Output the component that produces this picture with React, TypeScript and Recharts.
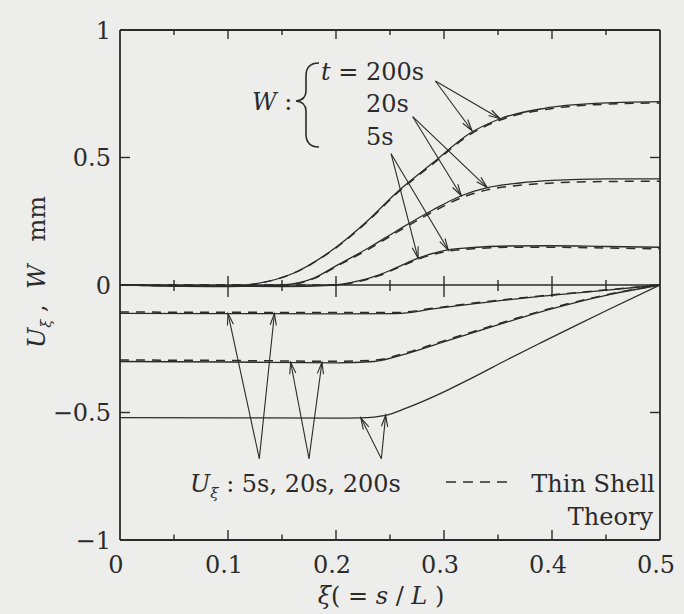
import React from 'react';
import { LineChart, Line, XAxis, YAxis, ReferenceLine } from 'recharts';

// ---- axes ----
const X_TICKS = [0, 0.05, 0.1, 0.15, 0.2, 0.25, 0.3, 0.35, 0.4, 0.45, 0.5];
const X_MAJOR = [0, 0.1, 0.2, 0.3, 0.4, 0.5];
const Y_TICKS = [-1, -0.5, 0, 0.5, 1];
const Y_LABELS = ['−1', '−0.5', '0', '0.5', '1'];
const Y_INNER = [-0.5, 0, 0.5];

// ---- W (normal displacement); solid = FEM, dashed = thin shell theory ----
const W_200S: [number, number][] = [
  [0, 0], [0.05, -0.003], [0.1, -0.005], [0.125, 0.004], [0.16, 0.045], [0.2, 0.148],
  [0.23, 0.255], [0.256, 0.362], [0.29, 0.48], [0.324, 0.595], [0.352, 0.652],
  [0.393, 0.693], [0.44, 0.712], [0.5, 0.719],
];
const W_200S_SHELL: [number, number][] = [
  [0, 0], [0.1, -0.005], [0.125, 0.004], [0.16, 0.045], [0.2, 0.146], [0.23, 0.252],
  [0.256, 0.358], [0.29, 0.476], [0.324, 0.59], [0.352, 0.647], [0.393, 0.688],
  [0.44, 0.707], [0.5, 0.714],
];
const W_20S: [number, number][] = [
  [0, 0], [0.1, -0.006], [0.15, 0.0], [0.18, 0.028], [0.2, 0.075], [0.23, 0.145],
  [0.256, 0.212], [0.29, 0.295], [0.316, 0.35], [0.34, 0.382], [0.37, 0.4],
  [0.4, 0.41], [0.45, 0.416], [0.5, 0.416],
];
const W_20S_SHELL: [number, number][] = [
  [0, 0], [0.15, 0.0], [0.18, 0.026], [0.2, 0.072], [0.23, 0.14], [0.256, 0.206],
  [0.29, 0.288], [0.316, 0.342], [0.34, 0.373], [0.37, 0.391], [0.4, 0.4],
  [0.45, 0.406], [0.5, 0.407],
];
const W_5S: [number, number][] = [
  [0, 0], [0.15, -0.006], [0.2, 0.0], [0.22, 0.015], [0.24, 0.04], [0.256, 0.068],
  [0.276, 0.105], [0.3, 0.135], [0.324, 0.146], [0.36, 0.153], [0.4, 0.154],
  [0.45, 0.151], [0.5, 0.148],
];
const W_5S_SHELL: [number, number][] = [
  [0, 0], [0.2, 0.0], [0.22, 0.013], [0.24, 0.037], [0.256, 0.065], [0.276, 0.101],
  [0.3, 0.13], [0.324, 0.141], [0.36, 0.148], [0.4, 0.148], [0.45, 0.145], [0.5, 0.142],
];

// ---- U_xi (meridional displacement) ----
const U_5S: [number, number][] = [
  [0, -0.111], [0.1, -0.112], [0.2, -0.113], [0.256, -0.112], [0.29, -0.094],
  [0.327, -0.074], [0.389, -0.045], [0.451, -0.02], [0.5, 0],
];
const U_5S_SHELL: [number, number][] = [
  [0, -0.106], [0.1, -0.107], [0.2, -0.108], [0.256, -0.108], [0.29, -0.091],
  [0.327, -0.071], [0.389, -0.043], [0.451, -0.019], [0.5, 0],
];
const U_20S: [number, number][] = [
  [0, -0.3], [0.1, -0.302], [0.2, -0.305], [0.235, -0.3], [0.265, -0.27],
  [0.296, -0.228], [0.327, -0.187], [0.358, -0.146], [0.389, -0.106],
  [0.42, -0.071], [0.455, -0.036], [0.5, 0],
];
const U_20S_SHELL: [number, number][] = [
  [0, -0.294], [0.1, -0.296], [0.2, -0.299], [0.235, -0.295], [0.265, -0.266],
  [0.296, -0.224], [0.327, -0.183], [0.358, -0.142], [0.389, -0.103],
  [0.42, -0.068], [0.455, -0.034], [0.5, 0],
];
const U_200S: [number, number][] = [
  [0, -0.52], [0.1, -0.521], [0.2, -0.522], [0.222, -0.521], [0.247, -0.51],
  [0.265, -0.483], [0.296, -0.427], [0.327, -0.362], [0.358, -0.294],
  [0.389, -0.228], [0.42, -0.163], [0.451, -0.099], [0.5, 0],
];

// annotation arrows: [fromXi, fromV, toXi, toV]
const W_ARROWS = [
  [0.292, 0.8, 0.352, 0.652], [0.292, 0.8, 0.326, 0.605],
  [0.271, 0.66, 0.34, 0.382], [0.271, 0.66, 0.316, 0.35],
  [0.251, 0.515, 0.304, 0.137], [0.251, 0.515, 0.276, 0.105],
];
const U_ARROWS = [
  [0.129, -0.681, 0.1, -0.112], [0.129, -0.681, 0.143, -0.112],
  [0.175, -0.681, 0.158, -0.303], [0.175, -0.681, 0.187, -0.303],
  [0.242, -0.681, 0.223, -0.521], [0.242, -0.681, 0.246, -0.51],
];

const INK = '#2b2b2b';
const FONT = '"DejaVu Serif", "Liberation Serif", serif';

const toPts = (arr: [number, number][]) => arr.map(([x, y]) => ({ x, y }));
const isMajor = (v: number) => X_MAJOR.some((m) => Math.abs(v - m) < 1e-9);

function ArrowShape(p: any) {
  const { x1, y1, x2, y2 } = p;
  const a = Math.atan2(y2 - y1, x2 - x1);
  const L = 12;
  const s = 0.26;
  const h1 = `${x2 - L * Math.cos(a - s)},${y2 - L * Math.sin(a - s)}`;
  const h2 = `${x2 - L * Math.cos(a + s)},${y2 - L * Math.sin(a + s)}`;
  return (
    <g stroke={INK} strokeWidth={1.1} fill="none">
      <line x1={x1} y1={y1} x2={x2} y2={y2} />
      <polyline points={`${h1} ${x2},${y2} ${h2}`} />
    </g>
  );
}

// short tick mark drawn at a reference point
function tickShape(up: number, down: number, left = 0, right = 0) {
  return (p: any) => (
    <line
      x1={p.x1 - left}
      x2={p.x1 + right}
      y1={p.y1 - up}
      y2={p.y1 + down}
      stroke={INK}
      strokeWidth={1.4}
    />
  );
}

function BottomTick(p: any) {
  const { x, y, payload } = p;
  const v = payload.value;
  const major = isMajor(v);
  const edge = v < 1e-9 || v > 0.5 - 1e-9;
  return (
    <g>
      {!edge && <line x1={x} x2={x} y1={y} y2={y - (major ? 10 : 5.5)} stroke={INK} strokeWidth={1.4} />}
      {major && (
        <text x={x - 4} y={y + 33} textAnchor="middle" fontSize={24} fill={INK} fontFamily={FONT}>
          {v === 0 ? '0' : v.toFixed(1)}
        </text>
      )}
    </g>
  );
}

function LeftTick(p: any) {
  const { x, y, payload } = p;
  const v = payload.value;
  const i = Y_TICKS.indexOf(v);
  const inner = Math.abs(v) < 0.9;
  return (
    <g>
      {inner && <line x1={x} x2={x + 10} y1={y} y2={y} stroke={INK} strokeWidth={1.4} />}
      <text x={x - 9} y={y + 8.5} textAnchor="end" fontSize={24} fill={INK} fontFamily={FONT}>
        {Y_LABELS[i]}
      </text>
    </g>
  );
}

const W_SERIES = [W_200S, W_20S, W_5S];
const W_SHELL = [W_200S_SHELL, W_20S_SHELL, W_5S_SHELL];
const U_SERIES = [U_5S, U_20S, U_200S];
const U_SHELL = [U_5S_SHELL, U_20S_SHELL];

export default function App() {
  const solid = [...W_SERIES, ...U_SERIES];
  const dashed = [...W_SHELL, ...U_SHELL];
  const inner = X_TICKS.slice(1, -1);
  const txt = { fontFamily: FONT, fill: INK } as const;
  return (
    <div style={{ position: 'absolute', left: 0, top: 0, width: 684, height: 614, background: '#ededec' }}>
      <LineChart width={684} height={614} margin={{ top: 30, right: 24, bottom: 34, left: 60 }}>
        <XAxis
          type="number"
          dataKey="x"
          domain={[0, 0.5]}
          ticks={X_TICKS}
          interval={0}
          height={40}
          tickSize={0}
          tickMargin={0}
          tickLine={false}
          axisLine={{ stroke: INK, strokeWidth: 1.8 }}
          tick={<BottomTick />}
          allowDataOverflow
        />
        <YAxis
          type="number"
          domain={[-1, 1]}
          ticks={Y_TICKS}
          interval={0}
          width={60}
          tickSize={0}
          tickMargin={0}
          tickLine={false}
          axisLine={{ stroke: INK, strokeWidth: 1.8 }}
          tick={<LeftTick />}
          allowDataOverflow
        />

        {/* frame: top and right sides with inward ticks */}
        <ReferenceLine y={1} stroke={INK} strokeWidth={1.8} />
        <ReferenceLine x={0.5} stroke={INK} strokeWidth={1.8} />
        {inner.map((v) => (
          <ReferenceLine
            key={`tt${v}`}
            segment={[{ x: v, y: 1 }, { x: v, y: 1 }]}
            shape={tickShape(0, isMajor(v) ? 9 : 5)}
          />
        ))}
        {Y_INNER.map((v) => (
          <ReferenceLine
            key={`rt${v}`}
            segment={[{ x: 0.5, y: v }, { x: 0.5, y: v }]}
            shape={tickShape(0, 0, 10, 0)}
          />
        ))}

        {/* zero line with crossing ticks */}
        <ReferenceLine y={0} stroke={INK} strokeWidth={1.3} />
        {inner.map((v) => (
          <ReferenceLine
            key={`zt${v}`}
            segment={[{ x: v, y: 0 }, { x: v, y: 0 }]}
            shape={isMajor(v) ? tickShape(9, 12) : tickShape(5, 6)}
          />
        ))}

        {dashed.map((s, i) => (
          <Line
            key={`d${i}`}
            data={toPts(s)}
            dataKey="y"
            type="monotone"
            stroke={INK}
            strokeWidth={1.5}
            strokeDasharray="9 7"
            dot={false}
            isAnimationActive={false}
          />
        ))}
        {solid.map((s, i) => (
          <Line
            key={`s${i}`}
            data={toPts(s)}
            dataKey="y"
            type="monotone"
            stroke={INK}
            strokeWidth={1.3}
            dot={false}
            isAnimationActive={false}
          />
        ))}

        {[...W_ARROWS, ...U_ARROWS].map((a, i) => (
          <ReferenceLine
            key={`a${i}`}
            segment={[{ x: a[0], y: a[1] }, { x: a[2], y: a[3] }]}
            shape={ArrowShape}
          />
        ))}
      </LineChart>

      <svg width={684} height={614} style={{ position: 'absolute', left: 0, top: 0, pointerEvents: 'none' }}>
        {/* y-axis title */}
        <text transform="translate(45,272) rotate(-90)" textAnchor="middle" fontSize={24} {...txt} xmlSpace="preserve">
          <tspan fontStyle="italic">U</tspan>
          <tspan fontStyle="italic" fontSize={15} dy={6}>ξ</tspan>
          <tspan dy={-6}>{' ,  '}</tspan>
          <tspan fontStyle="italic">W</tspan>
          <tspan>{'   mm'}</tspan>
        </text>
        {/* x-axis title */}
        <text x={381} y={604} textAnchor="middle" fontSize={24} {...txt} xmlSpace="preserve">
          <tspan fontStyle="italic">ξ</tspan>
          <tspan>{'( = '}</tspan>
          <tspan fontStyle="italic">s</tspan>
          <tspan>{' / '}</tspan>
          <tspan fontStyle="italic">L</tspan>
          <tspan>{' )'}</tspan>
        </text>

        {/* W legend */}
        <text x={252} y={110} fontSize={24} {...txt} xmlSpace="preserve">
          <tspan fontStyle="italic">W</tspan>
          <tspan>{' :'}</tspan>
        </text>
        <path
          d="M 319 63 Q 306 63 306 76 L 306 91 Q 306 100 296 101 Q 306 102 306 111 L 306 134 Q 306 147 319 147"
          stroke={INK}
          strokeWidth={1.6}
          fill="none"
        />
        <text x={321} y={80} fontSize={24} {...txt} xmlSpace="preserve">
          <tspan fontStyle="italic">t</tspan>
          <tspan>{' = 200s'}</tspan>
        </text>
        <text x={366} y={112} fontSize={24} {...txt}>20s</text>
        <text x={366} y={145} fontSize={24} {...txt}>5s</text>

        {/* U legend */}
        <text x={190} y={492} fontSize={24} {...txt} xmlSpace="preserve">
          <tspan fontStyle="italic">U</tspan>
          <tspan fontStyle="italic" fontSize={15} dy={6}>ξ</tspan>
          <tspan dy={-6}>{' : 5s, 20s, 200s'}</tspan>
        </text>
        <line x1={446} x2={512} y1={482} y2={482} stroke={INK} strokeWidth={1.4} strokeDasharray="10 7" />
        <text x={655} y={492} textAnchor="end" fontSize={24} {...txt}>Thin Shell</text>
        <text x={653} y={525} textAnchor="end" fontSize={24} {...txt}>Theory</text>
      </svg>
    </div>
  );
}
